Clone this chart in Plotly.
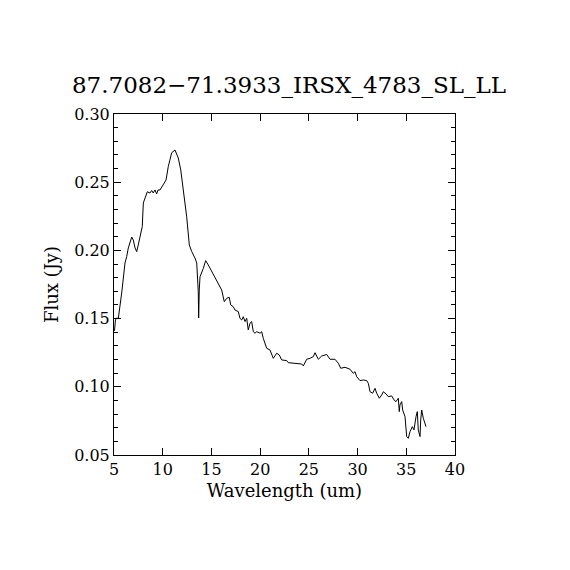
import plotly.graph_objects as go

title = "87.7082\u221271.3933_IRSX_4783_SL_LL"

wavelength = [
    5.05, 5.15, 5.28, 5.44, 5.79, 6.13, 6.30, 6.47, 6.82, 6.98, 7.16, 7.33, 7.49, 7.67,
    7.90, 8.01, 8.18, 8.42, 8.69, 8.87, 9.03, 9.21, 9.38, 9.52, 9.72, 10.06, 10.34,
    10.57, 10.92, 11.26, 11.60, 11.85, 12.11, 12.46, 12.73, 12.98, 13.31, 13.49,
    13.65, 13.69, 13.75, 13.83, 14.17, 14.41, 14.68, 15.03, 15.37, 15.71, 16.05,
    16.32, 16.57, 16.83, 16.98, 17.24, 17.42, 17.76, 17.93, 18.11, 18.27, 18.45,
    18.62, 18.78, 18.96, 19.13, 19.30, 19.47, 19.65, 19.99, 20.16, 20.32, 20.67,
    21.01, 21.35, 21.70, 21.97, 22.21, 22.73, 22.89, 23.40, 23.92, 24.27, 24.43,
    24.78, 25.12, 25.46, 25.63, 25.97, 26.32, 26.83, 27.17, 27.68, 28.02, 28.27,
    28.71, 29.22, 29.56, 29.74, 29.91, 30.25, 30.59, 30.94, 31.10, 31.28, 31.55,
    31.79, 31.96, 32.23, 32.48, 32.64, 32.92, 33.15, 33.50, 33.74, 33.94, 34.18,
    34.28, 34.35, 34.53, 34.63, 34.87, 35.04, 35.21, 35.38, 35.62, 35.79, 36.00,
    36.13, 36.23, 36.41, 36.48, 36.58, 36.75, 37.02,
]
flux = [
    0.141, 0.149, 0.1505, 0.150, 0.1688, 0.1908, 0.1954, 0.2018, 0.2098, 0.2076,
    0.2018, 0.1991, 0.2040, 0.2091, 0.2174, 0.2348, 0.2384, 0.2430, 0.2421, 0.2439,
    0.2421, 0.2443, 0.2414, 0.2443, 0.2443, 0.2480, 0.2516, 0.2614, 0.2716, 0.2736,
    0.2677, 0.2590, 0.2458, 0.2247, 0.2040, 0.1991, 0.1944, 0.1908, 0.1697, 0.1505,
    0.1710, 0.1807, 0.1869, 0.1925, 0.1893, 0.1844, 0.1807, 0.1759, 0.1710, 0.1624,
    0.1649, 0.1656, 0.1600, 0.1587, 0.1563, 0.1551, 0.1502, 0.1490, 0.1514, 0.1478,
    0.1502, 0.1417, 0.1466, 0.1478, 0.1404, 0.1393, 0.1404, 0.1393, 0.1404, 0.1356,
    0.1283, 0.1270, 0.1209, 0.1246, 0.1233, 0.1197, 0.1192, 0.1177, 0.1173, 0.1167,
    0.1167, 0.1153, 0.1202, 0.1209, 0.1221, 0.1250, 0.1202, 0.1226, 0.1237, 0.1202,
    0.1202, 0.1173, 0.1136, 0.1143, 0.1129, 0.1099, 0.1111, 0.1074, 0.1045, 0.1050,
    0.1045, 0.1026, 0.0964, 0.0953, 0.0989, 0.0953, 0.0916, 0.0940, 0.0964, 0.0948,
    0.0928, 0.0933, 0.0904, 0.0891, 0.0916, 0.0818, 0.0867, 0.0891, 0.0830, 0.0781,
    0.0635, 0.0623, 0.0671, 0.0708, 0.0684, 0.0781, 0.0818, 0.0684, 0.0635, 0.0757,
    0.0830, 0.0769, 0.0708,
]

x_ticks = [5, 10, 15, 20, 25, 30, 35, 40]
y_ticks = [0.05, 0.10, 0.15, 0.20, 0.25, 0.30]

font = "DejaVu Serif"

fig = go.Figure()
fig.add_trace(go.Scatter(x=wavelength, y=flux, mode="lines",
                         line=dict(color="black", width=1), showlegend=False))

axis_style = dict(showline=True, linecolor="black", linewidth=1, mirror="ticks",
                  ticks="inside", ticklen=7, tickcolor="black", showgrid=False,
                  zeroline=False, tickfont=dict(family=font, size=16, color="black"))

fig.update_xaxes(range=[5, 40], tickvals=x_ticks, ticktext=[str(v) for v in x_ticks],
                 title=dict(text="Wavelength (um)", font=dict(family=font, size=18, color="black"),
                            standoff=6),
                 **axis_style)
fig.update_yaxes(range=[0.05, 0.30], tickvals=y_ticks, ticktext=["%.2f" % v for v in y_ticks],
                 minor=dict(dtick=0.01, ticks="inside", ticklen=4, tickcolor="black"),
                 title=dict(text="Flux (Jy)", font=dict(family=font, size=18, color="black"),
                            standoff=10),
                 **axis_style)

# the page adds an 8 px body margin, so the margins are shifted by it
fig.update_layout(
    width=570, height=570,
    margin=dict(l=106, r=123, t=106, b=123),
    paper_bgcolor="white", plot_bgcolor="white",
    title=dict(text=title, x=0.493, xanchor="center", y=1 - 77 / 570, yanchor="middle",
               font=dict(family=font, size=23, color="black")),
)

fig.write_html("out.html")
